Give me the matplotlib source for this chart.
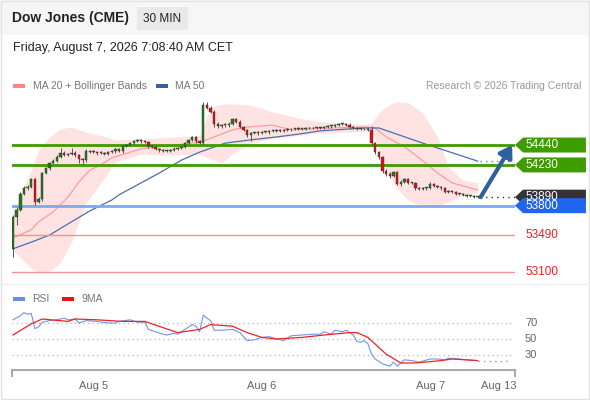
import matplotlib
matplotlib.use("Agg")
import matplotlib.pyplot as plt
import matplotlib.patches as patches
from matplotlib.lines import Line2D
from matplotlib.transforms import blended_transform_factory

plt.rcParams['font.family'] = ['Liberation Sans', 'DejaVu Sans']

# 30 min candles (open = previous close)
first_open = 53340
closes = [
    53680, 53755, 53925, 53985, 54000, 54080, 53840, 53870, 54145, 54195, 54250, 54270, 54315, 54360, 54335, 54345,
    54360, 54335, 54290, 54280, 54375, 54370, 54365, 54355, 54360, 54345, 54365, 54375, 54395, 54375, 54430, 54440,
    54460, 54480, 54490, 54480, 54475, 54430, 54420, 54400, 54385, 54375, 54380, 54385, 54400, 54410, 54420, 54460,
    54490, 54525, 54480, 54460, 54860, 54830, 54790, 54660, 54640, 54650, 54650, 54660, 54715, 54685, 54630, 54600,
    54545, 54565, 54570, 54565, 54575, 54575, 54590, 54590, 54595, 54590, 54600, 54610, 54605, 54615, 54610, 54610,
    54620, 54615, 54620, 54625, 54620, 54630, 54645, 54640, 54650, 54660, 54660, 54655, 54630, 54620, 54610, 54610,
    54605, 54600, 54460, 54365, 54315, 54165, 54135, 54115, 54155, 54030, 54050, 54080, 54040, 54040, 53985, 53975,
    53985, 53985, 54030, 54005, 53995, 53985, 53945, 53955, 53945, 53925, 53925, 53915, 53905, 53900, 53890, 53890,
]
wick_up = [
    20, 30, 15, 20, 20, 15, 15, 25, 15, 15, 15, 20, 15, 50, 15, 15,
    45, 20, 15, 15, 20, 10, 15, 10, 15, 10, 10, 15, 15, 10, 10, 15,
    15, 15, 10, 15, 10, 10, 15, 10, 10, 15, 10, 10, 15, 10, 15, 10,
    15, 15, 10, 10, 35, 35, 20, 15, 20, 15, 20, 20, 15, 10, 15, 10,
    10, 10, 10, 15, 10, 15, 10, 10, 15, 10, 10, 15, 10, 10, 15, 10,
    10, 10, 15, 10, 10, 15, 10, 10, 10, 15, 10, 10, 15, 10, 10, 10,
    15, 10, 40, 15, 15, 10, 20, 25, 15, 15, 20, 15, 15, 15, 15, 10,
    10, 10, 15, 10, 10, 10, 10, 10, 10, 10, 10, 10, 10, 10, 10, 10,
]
wick_dn = [
    80, 80, 15, 10, 15, 15, 35, 15, 20, 10, 15, 10, 10, 15, 15, 10,
    15, 20, 40, 40, 15, 10, 10, 15, 10, 15, 10, 10, 15, 10, 15, 10,
    10, 15, 10, 15, 10, 20, 15, 10, 15, 10, 10, 15, 10, 10, 15, 10,
    10, 10, 15, 10, 15, 15, 15, 30, 15, 20, 15, 15, 10, 15, 15, 10,
    15, 60, 10, 15, 10, 10, 15, 10, 10, 15, 10, 10, 15, 10, 10, 15,
    10, 10, 10, 15, 10, 10, 10, 15, 10, 10, 10, 15, 20, 10, 15, 10,
    10, 15, 15, 15, 20, 15, 20, 25, 15, 15, 20, 10, 15, 15, 15, 10,
    10, 15, 10, 10, 10, 15, 10, 10, 10, 10, 10, 10, 10, 10, 10, 10,
]

ma20_idx = [0, 5, 7, 11, 15, 18, 21, 24, 27, 35, 42, 51, 55, 60, 64, 71, 76, 87, 96, 99, 102, 107, 111, 116, 120, 127]
ma20_val = [53460, 53545, 53630, 53735, 53890, 54050, 54175, 54230, 54305, 54400, 54430, 54470, 54525, 54600,
            54630, 54650, 54600, 54620, 54630, 54620, 54525, 54420, 54305, 54145, 54040, 53965]
ma50_idx = [0, 5, 10, 16, 21, 27, 29, 40, 46, 51, 58, 65, 72, 78, 84, 96, 100, 112, 127]
ma50_val = [53345, 53415, 53490, 53630, 53745, 53860, 53915, 54145, 54280, 54365, 54460, 54495, 54525, 54555,
            54590, 54620, 54620, 54460, 54270]
band_idx = [0, 2, 5, 7, 10, 13, 16, 20, 24, 28, 35, 43, 51, 54, 57, 60, 65, 72, 78, 84, 96, 98, 100, 103, 105,
            108, 112, 116, 119, 123, 127]
band_up = [53700, 53920, 54175, 54390, 54525, 54610, 54630, 54575, 54540, 54495, 54505, 54520, 54540, 54840,
           54870, 54875, 54860, 54780, 54725, 54685, 54660, 54670, 54780, 54870, 54895, 54885, 54780, 54525,
           54210, 54070, 54040]
band_dn = [53330, 53250, 53140, 53100, 53110, 53200, 53420, 53830, 54040, 54260, 54345, 54335, 54345, 54290,
           54250, 54345, 54460, 54520, 54540, 54570, 54580, 54600, 54400, 54100, 53980, 53860, 53790, 53790,
           53840, 53910, 53935]

rsi_idx = [0, 2, 3, 4, 5, 6, 7, 8, 10, 12, 14, 15, 17, 18, 20, 23, 26, 28, 29, 32, 34, 36, 37, 39, 41, 42, 44,
           45, 47, 49, 50, 51, 52, 53, 54, 55, 57, 60, 62, 64, 66, 68, 70, 72, 74, 76, 79, 82, 84, 85, 87, 88,
           90, 91, 93, 94, 95, 96, 97, 98, 99, 101, 103, 104, 105, 107, 109, 111, 114, 116, 118, 119, 122, 124, 127]
rsi_val = [74, 79, 83, 81, 82, 63, 65, 71, 73, 74, 76, 74, 75, 70, 73, 72, 70, 70, 72, 74, 71, 71, 62, 59, 56,
           55, 57, 56, 62, 68, 66, 59, 80, 76, 73, 61, 61, 62, 58, 48, 49, 52, 53, 50, 48, 54, 55, 56, 56, 59,
           56, 61, 59, 61, 55, 47, 46, 48, 44, 31, 25, 19, 16, 21, 16, 24, 23, 21, 25, 25, 24, 26, 25, 24, 23]
rsi_ma_idx = [0, 5, 8, 15, 17, 23, 30, 36, 45, 51, 54, 60, 64, 68, 72, 79, 85, 92, 94, 97, 102, 106, 110, 117, 120, 127]
rsi_ma_val = [55, 69, 75, 72, 75, 74, 72, 72, 58, 62, 68, 66, 58, 52, 50, 52, 55, 58, 58, 52, 31, 20, 20, 23, 25, 23]

resistances = [54440, 54230]
support = 53800
red_levels = [53490, 53100]
last_price = 53890
target = 54440
rsi_levels = [70, 50, 30]
day_labels = ['Aug 5', 'Aug 6', 'Aug 7', 'Aug 13']
day_pos = [22, 68, 114, 132.8]

W, H = 590, 400
def fx(px):
    return px / W
def fy(py):
    return 1 - py / H

fig = plt.figure(figsize=(5.9, 4.0), dpi=100)
fig.patch.set_facecolor('white')
fig.add_artist(patches.Rectangle((0, fy(35)), 1, 35 / H, transform=fig.transFigure, color='#f6f6f6', lw=0))
fig.add_artist(patches.Rectangle((0.001, 0.002), 0.997, 0.996, transform=fig.transFigure,
                                 fill=False, ec='#e2e2e2', lw=1))
fig.add_artist(Line2D([0, 1], [fy(284), fy(284)], transform=fig.transFigure, color='#eeeeee', lw=1))

# header
fig.text(fx(12), fy(18), 'Dow Jones (CME)', fontsize=10, weight='bold', color='#222', va='center')
fig.add_artist(patches.Rectangle((fx(137), fy(30)), 51 / W, 23 / H, transform=fig.transFigure,
                                 color='#e9e9e9', lw=0))
fig.text(fx(162.5), fy(18.5), '30 MIN', fontsize=8.5, color='#222', ha='center', va='center')
fig.text(fx(13), fy(48), 'Friday, August 7, 2026 7:08:40 AM CET', fontsize=9, color='#222', va='center')

fig.add_artist(patches.Rectangle((fx(13), fy(88)), 12 / W, 4 / H, transform=fig.transFigure, color='#ff8585', lw=0))
fig.text(fx(33), fy(86), 'MA 20 + Bollinger Bands', fontsize=7.5, color='#777', va='center')
fig.add_artist(patches.Rectangle((fx(156), fy(88)), 12 / W, 4 / H, transform=fig.transFigure, color='#3a5f9e', lw=0))
fig.text(fx(175), fy(86), 'MA 50', fontsize=7.5, color='#777', va='center')
fig.text(fx(581), fy(86), 'Research \u00a9 2026 Trading Central', fontsize=7.5, color='#999', ha='right', va='center')

# price panel
xmin, xmax = -0.27, 137.2
ax = fig.add_axes([fx(12), fy(283), fx(515) - fx(12), (283 - 95) / H])
ax.set_xlim(xmin, xmax)
ax.set_ylim(52984, 54968)
ax.axis('off')

ax.fill_between(band_idx, band_dn, band_up, color='#ffe2e2', lw=0, zorder=1)
ax.plot(ma20_idx, ma20_val, color='#ff9c9c', lw=0.9, zorder=2)
ax.plot(ma50_idx, ma50_val, color='#4a6fae', lw=0.9, zorder=2)

for lv in resistances:
    ax.axhline(lv, color='#3f9c00', lw=2, zorder=3)
ax.axhline(support, color='#7ea8f2', lw=2, zorder=3)
for lv in red_levels:
    ax.axhline(lv, color='#f39090', lw=1, zorder=3)

opens = [first_open] + closes[:-1]
for i, (o, c) in enumerate(zip(opens, closes)):
    hi = max(o, c) + wick_up[i]
    lo = min(o, c) - wick_dn[i]
    ax.vlines(i, lo, hi, color='#555555', lw=0.7, zorder=4)
    col = '#1f7a1f' if c >= o else '#dd1111'
    body = max(abs(c - o), 8)
    ax.add_patch(patches.Rectangle((i - 0.33, min(o, c)), 0.66, body, fc=col, ec='#333333', lw=0.3, zorder=5))

n = len(closes)
ax.plot([n - 0.4, xmax], [last_price, last_price], ls=(0, (1, 3)), color='#333', lw=1, zorder=3)
ax.plot([ma50_idx[-1] + 0.5, xmax - 1.3], [ma50_val[-1], ma50_val[-1]], ls=(0, (1, 3)), color='#5a7fc0', lw=1, zorder=3)
ax.annotate('', xy=(136.4, target), xytext=(n - 0.2, last_price),
            arrowprops=dict(arrowstyle='-|>,head_width=0.45,head_length=0.7', color='#2f5f9f', lw=3,
                            shrinkA=0, shrinkB=0), zorder=6)

trans = blended_transform_factory(ax.transAxes, ax.transData)
h = 79
def tag(y, text, color):
    pts = [(1.0, y), (1.016, y + h), (1.141, y + h), (1.141, y - h), (1.016, y - h)]
    ax.add_patch(patches.Polygon(pts, closed=True, transform=trans, fc=color, ec='none', clip_on=False, zorder=7))
    ax.text(1.02, y, text, transform=trans, color='white', fontsize=8.5, va='center', ha='left', zorder=8)

for lv in resistances:
    tag(lv, str(lv), '#3f9c00')
tag(last_price, str(last_price), '#333333')
tag(support, str(support), '#1f66ee')
for lv in red_levels:
    ax.text(1.02, lv, str(lv), transform=trans, color='#ee2020', fontsize=8.5, va='center', ha='left')

# RSI panel
fig.add_artist(patches.Rectangle((fx(13), fy(301)), 12 / W, 4 / H, transform=fig.transFigure, color='#6b8de8', lw=0))
fig.text(fx(32), fy(299), 'RSI', fontsize=7.5, color='#777', va='center')
fig.add_artist(patches.Rectangle((fx(62), fy(301)), 12 / W, 4 / H, transform=fig.transFigure, color='#ee1111', lw=0))
fig.text(fx(81), fy(299), '9MA', fontsize=7.5, color='#777', va='center')

ax2 = fig.add_axes([fx(12), fy(370), fx(515) - fx(12), 80 / H])
ax2.set_xlim(xmin, xmax)
ax2.set_ylim(11.25, 111.25)
for s in ['top', 'right', 'left']:
    ax2.spines[s].set_visible(False)
ax2.spines['bottom'].set_color('#aaaaaa')
ax2.spines['bottom'].set_linewidth(1.5)
ax2.set_yticks([])
ax2.set_xticks(day_pos)
ax2.set_xticklabels(day_labels)
ax2.tick_params(axis='x', length=0, labelsize=8, labelcolor='#666', pad=8)
for xe in [xmin, xmax]:
    ax2.plot([xe, xe], [11.25, 3.75], color='#aaaaaa', lw=1.5, clip_on=False)

trans2 = blended_transform_factory(ax2.transAxes, ax2.transData)
for lv in rsi_levels:
    ax2.plot([xmin, xmax], [lv, lv], ls=(0, (1, 3)), color='#aaaaaa', lw=0.8)
    ax2.text(1.032, lv, str(lv), transform=trans2, color='#666', fontsize=8, ha='center', va='center')

ax2.plot(rsi_idx, rsi_val, color='#7393ee', lw=0.8)
ax2.plot(rsi_ma_idx, rsi_ma_val, color='#ee2222', lw=0.9)
ax2.plot([rsi_idx[-1], xmax - 1], [rsi_val[-1], rsi_val[-1]], ls=(0, (1, 3)), color='#7393ee', lw=1)

fig.savefig('out.png', dpi=100)
